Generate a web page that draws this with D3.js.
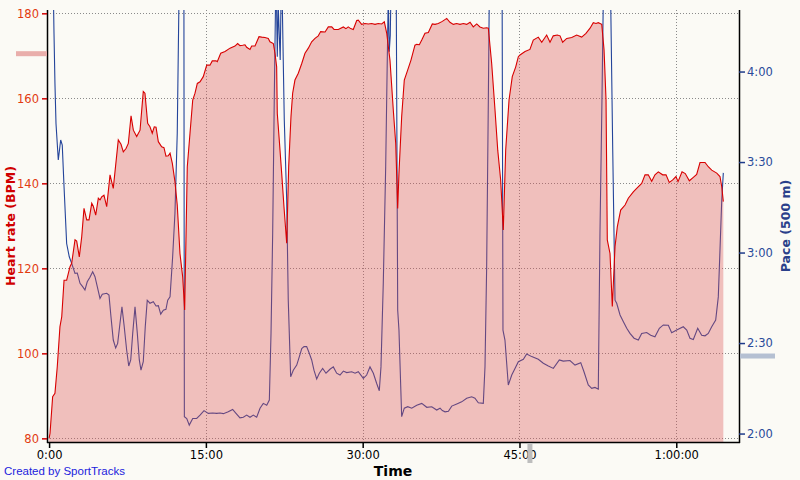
<!DOCTYPE html>
<html><head><meta charset="utf-8">
<script src="https://cdn.jsdelivr.net/npm/d3@7/dist/d3.min.js"></script>
<style>html,body{margin:0;padding:0;background:#fbfaf5;}svg{display:block;}</style>
</head><body><svg id="c" width="800" height="480"></svg>
<script>
// ---- data (time in minutes) ----
const hrTime = [0,0.09,0.34,0.56,0.78,1.04,1.21,1.43,1.68,2.00,2.16,2.48,2.64,2.89,3.12,3.34,3.60,3.82,4.08,4.23,4.46,4.71,4.87,5.03,5.25,5.51,5.83,6.14,6.62,6.88,7.10,7.36,7.58,7.84,8.06,8.38,8.70,9.01,9.17,9.43,9.65,9.87,10.06,10.23,10.45,10.77,10.99,11.18,11.40,11.57,11.79,12.04,12.26,12.52,12.78,12.97,13.22,13.48,13.74,13.96,14.18,14.44,14.75,15.08,15.39,15.61,15.97,16.09,16.42,16.83,17.31,17.78,18.04,18.26,18.52,18.74,18.90,19.22,19.38,19.70,20.08,20.34,20.65,20.97,21.13,21.45,21.61,21.77,21.83,22.02,22.25,22.47,22.73,22.92,23.14,23.30,23.52,23.84,24.17,24.48,24.80,25.12,25.44,25.75,25.98,26.40,26.71,27.04,27.26,27.67,28.15,28.40,28.62,28.85,29.10,29.43,29.58,29.90,30.22,30.54,30.86,31.18,31.49,31.82,32.07,32.30,32.61,32.93,33.16,33.35,33.47,33.73,33.98,34.31,34.62,35.00,35.17,35.42,35.65,35.96,36.28,36.66,36.92,37.23,37.62,38.04,38.35,38.67,38.99,39.31,39.63,39.95,40.27,40.58,40.91,41.22,41.54,41.86,42.02,42.34,42.66,42.92,43.20,43.45,43.68,44.00,44.31,44.64,44.89,45.05,45.53,46.00,46.32,46.80,47.13,47.60,47.92,48.23,48.62,48.88,49.13,49.52,50.00,50.47,50.95,51.36,51.75,52.06,52.32,52.54,52.87,53.09,53.28,53.40,53.66,53.88,54.14,54.36,54.68,55.10,55.41,55.89,56.21,56.69,57.01,57.32,57.65,57.96,58.28,58.70,59.02,59.33,59.66,59.97,60.17,60.55,60.86,61.25,61.63,61.95,62.27,62.75,63.06,63.39,63.87,64.18,64.35,64.50];
const hrBpm = [80,81.2,89.8,90.6,96.8,106.3,108.6,117.2,117.2,120.4,121.2,126.7,126.4,122.7,127.4,134.1,131.4,131.4,135.3,134.6,132.5,136.5,136.1,136.8,137.2,134.5,142.0,138.8,150.2,149.2,147.4,148.2,149.4,155.9,152.5,151.0,152.5,161.6,161.2,154.1,153.3,151.8,153.3,153.2,149.8,148.6,148.4,146.4,146.5,147.1,144.7,140.4,134.9,123.5,118.0,110.2,143.9,151.8,159.6,161.2,163.5,163.9,165.1,167.8,167.8,168.8,168.8,168.6,170.6,171.0,171.8,172.3,172.9,172.4,172.5,172.6,172.0,171.5,172.3,172.3,174.5,174.4,174.3,174.1,173.3,172.9,170.6,167.4,156.5,150.2,142.4,134.5,125.9,143.9,155.7,161.2,164.3,165.9,168.2,170.6,171.8,173.3,174.1,174.7,175.7,175.6,176.8,176.8,176.2,176.2,176.8,176.4,176.8,176.4,176.2,178.3,178.4,177.4,177.6,177.5,177.6,177.4,177.6,177.5,178.0,175.3,169.0,157.2,149.4,134.1,142.4,155.7,164.3,166.7,169.0,172.5,172.7,172.6,173.7,175.3,175.5,177.5,177.4,177.6,178.1,178.8,177.9,177.4,177.6,177.4,177.6,177.4,177.9,176.8,177.5,176.8,176.5,176.6,176.5,168.2,157.2,147.8,140.8,129.0,147.8,159.6,165.1,167.4,169.8,170.2,171.0,171.5,173.7,174.4,173.2,174.9,173.2,174.7,174.9,174.7,173.2,174.1,174.3,174.9,174.4,175.3,176.5,177.8,177.6,177.8,177.4,171.4,159.6,126.7,123.5,111.0,125.1,129.8,133.7,134.9,136.5,138.0,138.8,140.0,142.0,142.0,140.5,142.0,142.7,142.0,142.0,140.2,140.8,141.6,140.4,142.7,142.3,140.6,141.4,142.1,144.9,144.9,143.9,143.1,142.4,141.6,139.2,135.7];

const paceTime = [0.30,0.47,0.56,0.66,0.88,1.11,1.26,1.43,1.68,1.93,2.16,2.48,2.70,2.96,3.21,3.43,3.65,3.91,4.17,4.39,4.61,4.87,5.09,5.51,5.73,5.92,6.14,6.37,6.56,6.78,6.97,7.17,7.42,7.62,7.81,8.00,8.22,8.44,8.63,8.79,9.01,9.20,9.39,9.65,9.97,10.23,10.45,10.68,10.93,11.18,11.35,11.57,11.82,12.04,12.26,12.52,12.89,12.94,13.17,13.41,13.74,14.12,14.44,14.82,15.23,15.65,16.03,16.35,16.67,17.14,17.56,17.88,18.26,18.58,18.90,19.22,19.54,19.86,20.18,20.49,20.82,21.07,21.23,21.39,21.54,21.71,21.83,21.92,22.02,22.11,22.23,22.31,22.50,22.73,22.88,23.11,23.36,23.69,23.94,24.17,24.39,24.64,24.89,25.12,25.34,25.60,25.85,26.17,26.49,26.87,27.19,27.51,27.83,28.15,28.47,28.95,29.27,29.58,30.06,30.38,30.70,31.02,31.34,31.59,31.75,31.97,32.20,32.39,32.45,32.54,32.64,32.76,33.19,33.35,33.47,33.73,33.98,34.31,34.69,35.17,35.65,36.13,36.61,37.08,37.40,37.62,37.88,38.20,38.52,39.00,39.47,39.95,40.43,40.74,41.06,41.54,41.70,41.86,42.02,42.15,43.33,43.42,43.61,43.93,44.26,44.57,44.89,45.37,45.69,46.17,46.80,47.28,47.76,48.24,48.81,49.19,49.83,50.31,50.86,51.17,51.58,51.91,52.22,52.54,52.70,52.89,53.08,53.66,53.92,54.14,54.30,54.62,54.94,55.26,55.57,55.96,56.37,56.69,57.17,57.55,57.96,58.38,58.76,59.24,59.56,60.04,60.67,61.00,61.31,61.63,62.05,62.43,62.75,63.06,63.39,63.77,64.02,64.18,64.35,64.50];
const paceSec = [290,252.6,236.1,222.8,210.7,217.3,215.6,201.8,183.0,178.6,176.4,173.1,173.2,169.8,168.7,167.6,170.3,171.8,173.6,172.0,168.7,164.8,166.2,166.5,165.9,158.7,151.0,148.4,149.9,156.5,162.0,156.0,147.7,142.4,144.4,153.2,162.0,153.2,144.4,141.0,143.8,155.4,164.2,163.2,163.7,162.3,162.4,159.6,160.9,161.2,164.2,165.3,178.6,193.0,219.5,290,290,125.6,125.0,122.8,125.0,125.0,126.1,127.6,126.7,126.8,126.7,126.8,126.6,127.2,128.0,126.7,125.2,125.4,126.1,125.4,126.1,125.4,128.4,130.0,129.4,131.1,153.2,186.4,230.5,275,244.9,262,252,243.8,275,262,223.9,197.4,164.2,138.8,141.0,142.7,145.5,148.2,148.8,148.8,146.6,144.4,141.0,138.1,140.0,141.6,140.0,141.3,142.1,140.0,139.4,140.7,140.2,140.5,140.0,140.5,138.3,139.4,142.1,140.0,136.6,134.2,142.1,169.8,208.4,252.6,265,246.6,252,280,280,160.9,154.3,125.6,128.4,128.9,128.4,129.4,130.0,128.7,128.9,127.8,128.4,127.6,127.2,127.4,129.1,129.8,130.5,131.7,132.2,131.7,130.2,130.0,142.1,175.3,230.5,280,280,154.3,151.0,136.1,139.4,141.6,143.8,144.6,146.4,145.5,144.6,143.3,142.4,141.6,144.4,144.0,144.2,142.7,143.5,140.5,136.1,135.0,135.3,134.7,186.4,230.5,280,280,214,164.2,163.2,159.3,157.1,154.9,153.2,151.6,151.0,153.2,153.5,152.6,152.1,154.9,156.0,155.9,153.4,154.3,155.4,154.3,151.6,151.2,154.9,152.6,152.4,153.2,155.4,157.6,165.3,180.8,197.4,206.4];

const hrTicks = [80,100,120,140,160,180];
const paceTicks = [120,150,180,210,240];
const paceTickLabels = ["2:00","2:30","3:00","3:30","4:00"];
const timeTicks = [0,15,30,45,60];
const timeTickLabels = ["0:00","15:00","30:00","45:00","1:00:00"];
const hrMarker = 170.5;   // marker on HR axis
const paceMarker = 145.7; // marker on pace axis
const timeMarker = 46.0;  // marker on time axis

// ---- layout ----
const L = 47, R = 739, T = 10, B = 442;
const svg = d3.select("#c");
const x = d3.scaleLinear().domain([-0.2, 66.0]).range([L, R]);
const yH = d3.scaleLinear().domain([79.14, 180.78]).range([B, T]);
const yP = d3.scaleLinear().domain([117.2, 260.4]).range([B, T]);

svg.append("rect").attr("width",800).attr("height",480).attr("fill","#fbfaf5");
svg.append("defs").append("clipPath").attr("id","plot")
  .append("rect").attr("x",L).attr("y",T).attr("width",R-L).attr("height",B-T);

const font = "'DejaVu Sans', sans-serif";

// grid
const g = svg.append("g");
g.selectAll(".hg").data(hrTicks).join("line")
  .attr("x1",L).attr("x2",R).attr("y1",d=>Math.round(yH(d))+0.5).attr("y2",d=>Math.round(yH(d))+0.5)
  .attr("stroke","#8a8a8a").attr("stroke-dasharray","1,2");
g.selectAll(".vg").data(timeTicks.filter(d=>d>0)).join("line")
  .attr("y1",T).attr("y2",B).attr("x1",d=>Math.round(x(d))+0.5).attr("x2",d=>Math.round(x(d))+0.5)
  .attr("stroke","#8a8a8a").attr("stroke-dasharray","1,2");

const hrData = hrTime.map((t,i)=>({t, v: hrBpm[i]}));
const paceData = paceTime.map((t,i)=>({t, v: paceSec[i]}));

const plot = svg.append("g").attr("clip-path","url(#plot)");
// pace line
plot.append("path").datum(paceData)
  .attr("d", d3.line().x(d=>x(d.t)).y(d=>yP(d.v)))
  .attr("fill","none").attr("stroke","#24449a").attr("stroke-width",1.1);
// HR area (semi transparent over grid + pace)
plot.append("path").datum(hrData)
  .attr("d", d3.area().x(d=>x(d.t)).y0(B).y1(d=>yH(d.v)))
  .attr("fill","rgb(220,81,82)").attr("fill-opacity",0.35);
plot.append("path").datum(hrData)
  .attr("d", d3.line().x(d=>x(d.t)).y(d=>yH(d.v)))
  .attr("fill","none").attr("stroke","#d80000").attr("stroke-width",1.1);

// axes lines
svg.append("line").attr("x1",L+0.5).attr("x2",L+0.5).attr("y1",T).attr("y2",B+1).attr("stroke","#000").attr("stroke-width",1.5);
svg.append("line").attr("x1",R+0.5).attr("x2",R+0.5).attr("y1",T).attr("y2",B+1).attr("stroke","#000").attr("stroke-width",1.5);
svg.append("line").attr("x1",L).attr("x2",R+1).attr("y1",B+0.5).attr("y2",B+0.5).attr("stroke","#000").attr("stroke-width",1.5);

// left axis
const la = svg.append("g").attr("transform",`translate(${L},0)`)
  .call(d3.axisLeft(yH).tickValues(hrTicks).tickSize(5).tickPadding(3).tickFormat(d3.format("d")));
la.select(".domain").remove();
la.selectAll("line").attr("stroke","#d00000").attr("stroke-width",1.5);
la.selectAll("text").attr("fill","#e23a10").style("font-family",font).style("font-size","11.5px");

// right axis
const ra = svg.append("g").attr("transform",`translate(${R},0)`)
  .call(d3.axisRight(yP).tickValues(paceTicks).tickSize(6).tickPadding(2).tickFormat((d,i)=>paceTickLabels[i]));
ra.select(".domain").remove();
ra.selectAll("line").attr("stroke","#1e3a8a").attr("stroke-width",1.5);
ra.selectAll("text").attr("fill","#2a4a9a").style("font-family",font).style("font-size","11.5px");

// bottom axis
const ba = svg.append("g").attr("transform",`translate(0,${B})`)
  .call(d3.axisBottom(x).tickValues(timeTicks).tickSize(6).tickPadding(3).tickFormat((d,i)=>timeTickLabels[i]));
ba.select(".domain").remove();
ba.selectAll("line").attr("stroke","#000").attr("stroke-width",1.5);
ba.selectAll("text").attr("fill","#000").style("font-family",font).style("font-size","11.5px");

// markers
svg.append("rect").attr("x",16).attr("width",L-16).attr("y",yH(hrMarker)-2.5).attr("height",5).attr("fill","#e9aeab");
svg.append("rect").attr("x",R+1).attr("width",35).attr("y",yP(paceMarker)-2.5).attr("height",5).attr("fill","#b5c0d2");
svg.append("rect").attr("x",x(timeMarker)-2.5).attr("width",5).attr("y",B+1).attr("height",20).attr("fill","#bdbdbd");

// titles
svg.append("text").attr("transform",`translate(15,${(T+B)/2}) rotate(-90)`).attr("text-anchor","middle")
  .style("font-family",font).style("font-size","12.5px").style("font-weight","bold").attr("fill","#d00000")
  .text("Heart rate (BPM)");
svg.append("text").attr("transform",`translate(790,${(T+B)/2}) rotate(-90)`).attr("text-anchor","middle")
  .style("font-family",font).style("font-size","12.5px").style("font-weight","bold").attr("fill","#2a3f8a")
  .text("Pace (500 m)");
svg.append("text").attr("x",(L+R)/2).attr("y",476).attr("text-anchor","middle")
  .style("font-family",font).style("font-size","14px").style("font-weight","bold").attr("fill","#000")
  .text("Time");
svg.append("text").attr("x",4).attr("y",475)
  .style("font-family","'Liberation Sans', Arial, sans-serif").style("font-size","11.5px").attr("fill","#2222dd")
  .text("Created by SportTracks");
</script></body></html>
